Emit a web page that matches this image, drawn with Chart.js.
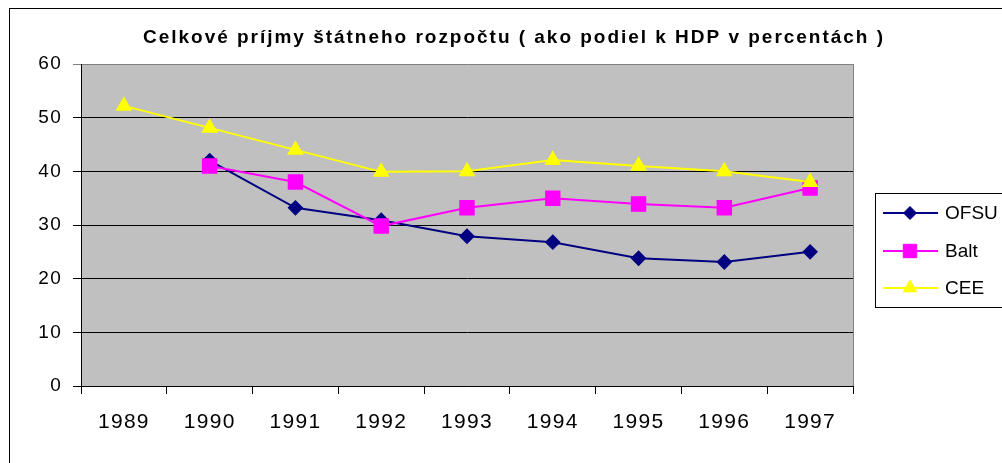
<!DOCTYPE html>
<html lang="sk">
<head>
  <meta charset="UTF-8" />
  <title>Celkové príjmy štátneho rozpočtu</title>
  <script src="https://cdn.jsdelivr.net/npm/chart.js"></script>
  <style>
    body {
      margin: 0;
      padding: 0;
      background: #fff;
    }
    #wrap {
      width: 1002px;
      height: 463px;
    }
  </style>
</head>
<body>
  <div id="wrap">
    <canvas id="chart" width="1002" height="463"></canvas>
  </div>

  <script>
    const titleText = 'Celkové príjmy štátneho rozpočtu ( ako podiel k HDP v percentách )';
    const years = ['1989', '1990', '1991', '1992', '1993', '1994', '1995', '1996', '1997'];
    const ofsu = [null, 42, 33.2, 30.9, 27.9, 26.8, 23.8, 23.1, 25];
    const balt = [null, 41, 38, 29.8, 33.2, 35, 33.9, 33.2, 36.9];
    const cee = [52.2, 48.1, 44, 39.9, 40, 42.1, 41, 40, 38];

    const font = "'Liberation Sans', Arial, sans-serif";

    // plot background, outer frame, title and the boxed legend
    const frame = {
      id: 'frame',
      beforeDraw(chart) {
        const { ctx, chartArea: a } = chart;
        ctx.save();
        ctx.fillStyle = '#c0c0c0';
        ctx.fillRect(a.left, a.top, a.right - a.left, a.bottom - a.top);
        ctx.strokeStyle = '#000';
        ctx.lineWidth = 1;
        ctx.strokeRect(9.5, 8.5, 1200, 1000);
        ctx.restore();
        ctx.letterSpacing = '1.3px';
      },
      beforeDatasetsDraw(chart) {
        const { ctx, chartArea: a } = chart;
        ctx.save();
        ctx.strokeStyle = '#808080';
        ctx.lineWidth = 1;
        ctx.beginPath();
        ctx.moveTo(a.right + 0.5, a.top);
        ctx.lineTo(a.right + 0.5, a.bottom);
        ctx.stroke();
        ctx.restore();
      },
      afterDraw(chart) {
        const ctx = chart.ctx;
        ctx.save();
        // title, spaced out to the width it has in the original
        ctx.font = 'bold 19px ' + font;
        ctx.letterSpacing = '0px';
        const w0 = ctx.measureText(titleText).width;
        const sp = Math.max(0, (742 - w0) / titleText.length);
        ctx.letterSpacing = sp.toFixed(2) + 'px';
        ctx.fillStyle = '#000';
        ctx.textAlign = 'left';
        ctx.textBaseline = 'alphabetic';
        ctx.fillText(titleText, 143, 43);

        // legend
        ctx.letterSpacing = '0px';
        ctx.fillStyle = '#fff';
        ctx.fillRect(875.5, 193.5, 200, 114);
        ctx.strokeStyle = '#000';
        ctx.lineWidth = 1;
        ctx.strokeRect(875.5, 193.5, 200, 114);
        const rows = [213, 251, 288];
        chart.data.datasets.forEach((ds, i) => {
          const y = rows[i];
          ctx.strokeStyle = ds.borderColor;
          ctx.lineWidth = ds.borderWidth;
          ctx.beginPath();
          ctx.moveTo(883, y);
          ctx.lineTo(938, y);
          ctx.stroke();
          ctx.fillStyle = ds.pointBackgroundColor;
          ctx.strokeStyle = ds.pointBorderColor;
          ctx.lineWidth = 1;
          Chart.helpers.drawPoint(ctx, {
            pointStyle: ds.pointStyle,
            radius: ds.pointRadius,
            borderWidth: 1,
            rotation: 0
          }, 910, y);
          ctx.fillStyle = '#000';
          ctx.font = '19px ' + font;
          ctx.textBaseline = 'middle';
          ctx.fillText(ds.label, 945, y + 1);
        });
        ctx.restore();
      }
    };

    new Chart(document.getElementById('chart'), {
      type: 'line',
      data: {
        labels: years,
        datasets: [
          {
            label: 'OFSU',
            data: ofsu,
            borderColor: '#000080',
            borderWidth: 2,
            pointStyle: 'rectRot',
            pointRadius: 6.5,
            pointBackgroundColor: '#000080',
            pointBorderColor: '#000080',
            tension: 0,
            order: 3
          },
          {
            label: 'Balt',
            data: balt,
            borderColor: '#ff00ff',
            borderWidth: 2,
            pointStyle: 'rect',
            pointRadius: 9.5,
            pointBackgroundColor: '#ff00ff',
            pointBorderColor: '#ff00ff',
            tension: 0,
            order: 2
          },
          {
            label: 'CEE',
            data: cee,
            borderColor: '#ffff00',
            borderWidth: 2,
            pointStyle: 'triangle',
            pointRadius: 7.7,
            pointBackgroundColor: '#ffff00',
            pointBorderColor: '#ffff00',
            tension: 0,
            order: 1
          }
        ]
      },
      options: {
        responsive: false,
        animation: false,
        devicePixelRatio: 1,
        layout: { padding: { left: 0, right: 149, top: 64, bottom: 0 } },
        plugins: {
          legend: { display: false },
          title: { display: false },
          tooltip: { enabled: false }
        },
        scales: {
          x: {
            offset: true,
            grid: {
              offset: true,
              drawOnChartArea: false,
              color: '#000',
              tickLength: 8
            },
            border: { color: '#000' },
            ticks: {
              color: '#000',
              font: { family: font, size: 21 },
              padding: 16,
              maxRotation: 0
            },
            afterFit(scale) { scale.height = 77; }
          },
          y: {
            min: 0,
            max: 60,
            ticks: {
              stepSize: 10,
              color: '#000',
              font: { family: font, size: 19 },
              padding: 11
            },
            grid: {
              color: c => (c.tick && c.tick.value === 60 ? '#808080' : '#000'),
              tickLength: 8
            },
            border: { color: '#000' },
            afterFit(scale) { scale.width = 81; }
          }
        }
      },
      plugins: [frame]
    });
  </script>
</body>
</html>
